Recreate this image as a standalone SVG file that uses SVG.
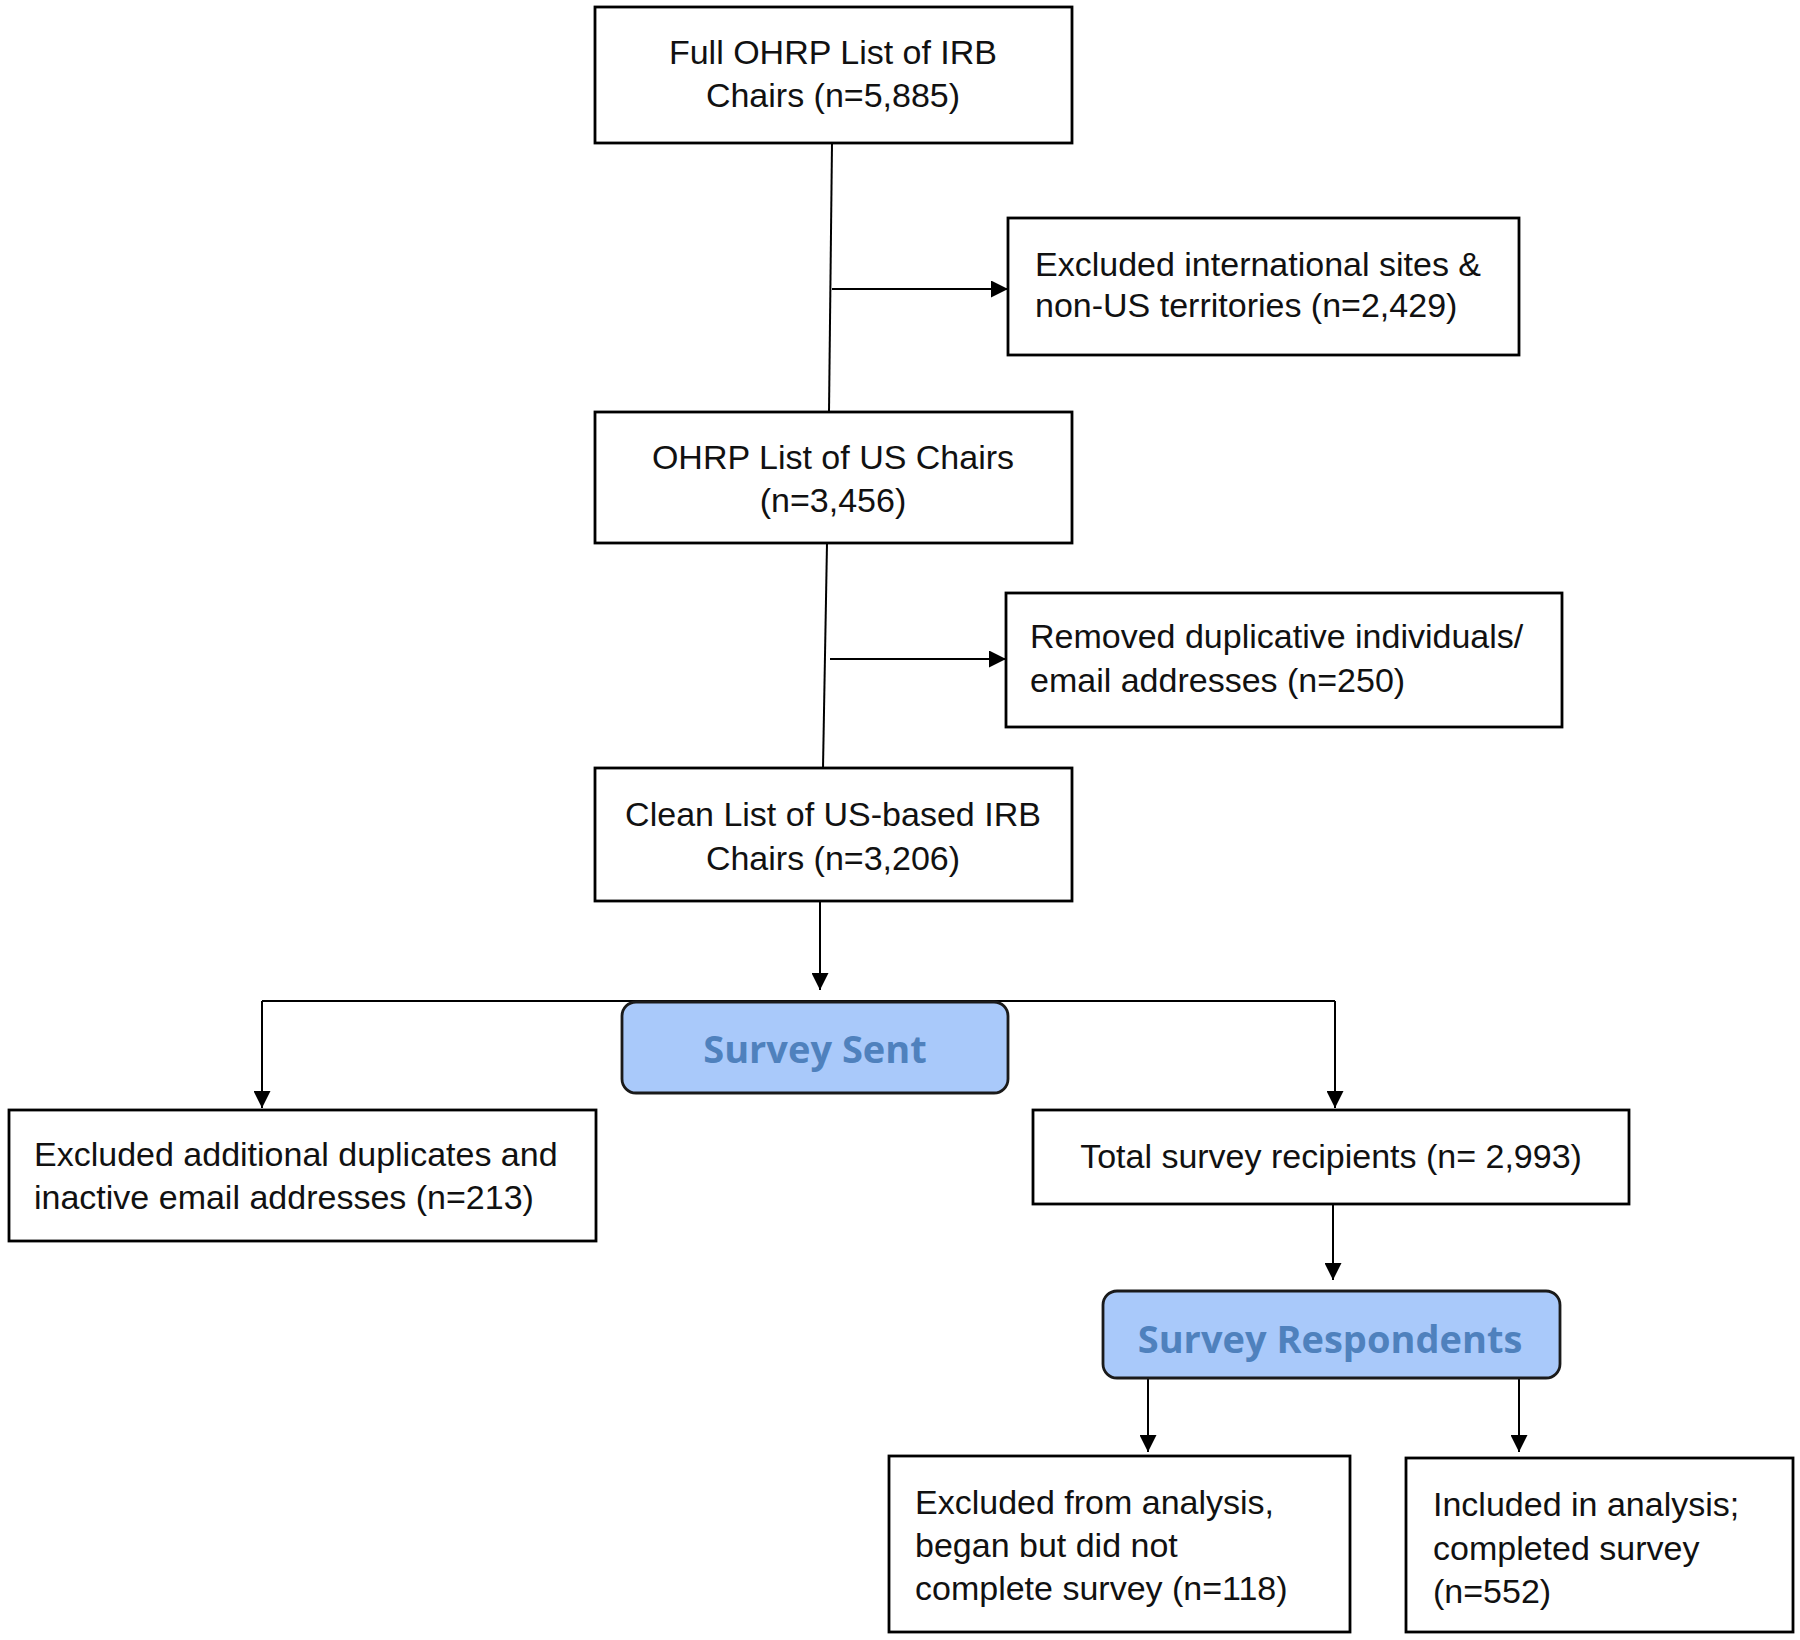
<svg xmlns="http://www.w3.org/2000/svg" width="1800" height="1640" viewBox="0 0 1800 1640">
<defs>
<marker id="ah" viewBox="0 0 10 10" refX="10" refY="5" markerWidth="18" markerHeight="17" markerUnits="userSpaceOnUse" orient="auto">
<path d="M0,0 L10,5 L0,10 z" fill="#000"/>
</marker>
</defs>
<style>
.box{fill:#fff;stroke:#000;stroke-width:2.8}
.rbox{fill:#a9c9fa;stroke:#1a1a1a;stroke-width:2.8}
.t{font-family:"Liberation Sans",Arial,sans-serif;font-size:34px;fill:#111}
.c{text-anchor:middle}
.bt{font-family:"Open Sans","Noto Sans",sans-serif;font-size:38px;font-weight:bold;fill:#4f81bd;text-anchor:middle}
.ln{stroke:#000;stroke-width:2;fill:none}
.ar{stroke:#000;stroke-width:2;fill:none;marker-end:url(#ah)}
</style>
<rect width="1800" height="1640" fill="#fff"/>
<g id="connectors">
<path class="ln" d="M832,143 L829,412"/>
<path class="ar" d="M832,289 L1008,289"/>
<path class="ln" d="M827,543 L823,768"/>
<path class="ar" d="M830,659 L1006,659"/>
<path class="ar" d="M820,901 L820,990"/>
<path class="ln" d="M262,1001 L1335,1001"/>
<path class="ar" d="M262,1001 L262,1108"/>
<path class="ar" d="M1335,1001 L1335,1108"/>
<path class="ar" d="M1333,1204 L1333,1280"/>
<path class="ar" d="M1148,1378 L1148,1452"/>
<path class="ar" d="M1519,1378 L1519,1452"/>
</g>
<g id="n1">
<rect class="box" x="595" y="7" width="477" height="136"/>
<text class="t c" x="833" y="64">Full OHRP List of IRB</text>
<text class="t c" x="833" y="107">Chairs (n=5,885)</text>
</g>
<g id="n2">
<rect class="box" x="1008" y="218" width="511" height="137"/>
<text class="t" x="1035" y="276">Excluded international sites &amp;</text>
<text class="t" x="1035" y="317">non-US territories (n=2,429)</text>
</g>
<g id="n3">
<rect class="box" x="595" y="412" width="477" height="131"/>
<text class="t c" x="833" y="469">OHRP List of US Chairs</text>
<text class="t c" x="833" y="512">(n=3,456)</text>
</g>
<g id="n4">
<rect class="box" x="1006" y="593" width="556" height="134"/>
<text class="t" x="1030" y="648">Removed duplicative individuals/</text>
<text class="t" x="1030" y="692">email addresses (n=250)</text>
</g>
<g id="n5">
<rect class="box" x="595" y="768" width="477" height="133"/>
<text class="t c" x="833" y="826">Clean List of US-based IRB</text>
<text class="t c" x="833" y="870">Chairs (n=3,206)</text>
</g>
<g id="n6">
<rect class="rbox" x="622" y="1002" width="386" height="91" rx="14"/>
<text class="bt" x="815" y="1063">Survey Sent</text>
</g>
<g id="n7">
<rect class="box" x="9" y="1110" width="587" height="131"/>
<text class="t" x="34" y="1166">Excluded additional duplicates and</text>
<text class="t" x="34" y="1209">inactive email addresses (n=213)</text>
</g>
<g id="n8">
<rect class="box" x="1033" y="1110" width="596" height="94"/>
<text class="t c" x="1331" y="1168">Total survey recipients (n= 2,993)</text>
</g>
<g id="n9">
<rect class="rbox" x="1103" y="1291" width="457" height="87" rx="14"/>
<text class="bt" x="1330" y="1353">Survey Respondents</text>
</g>
<g id="n10">
<rect class="box" x="889" y="1456" width="461" height="176"/>
<text class="t" x="915" y="1514">Excluded from analysis,</text>
<text class="t" x="915" y="1557">began but did not</text>
<text class="t" x="915" y="1600">complete survey (n=118)</text>
</g>
<g id="n11">
<rect class="box" x="1406" y="1458" width="387" height="174"/>
<text class="t" x="1433" y="1516">Included in analysis;</text>
<text class="t" x="1433" y="1560">completed survey</text>
<text class="t" x="1433" y="1603">(n=552)</text>
</g>
</svg>
